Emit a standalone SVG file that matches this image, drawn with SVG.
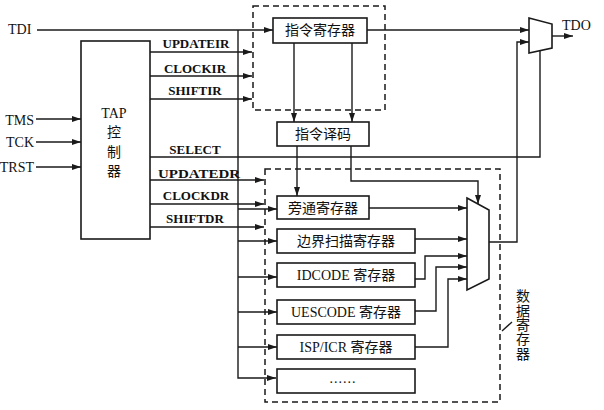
<svg xmlns="http://www.w3.org/2000/svg" width="604" height="410" viewBox="0 0 604 410">
<style>
.ln{fill:none;stroke:#1a1a1a;stroke-width:1.4}
.bx{fill:#fff;stroke:#1a1a1a;stroke-width:1.6}
.dash{fill:none;stroke:#1a1a1a;stroke-width:1.5;stroke-dasharray:6,4}
.pin{font-family:"Liberation Serif","Noto Sans CJK SC",serif;font-size:14px;fill:#111}
.sig{font-family:"Liberation Serif",serif;font-size:13px;font-weight:bold;fill:#111;text-anchor:middle}
.cn{font-family:"Liberation Serif","Noto Sans CJK SC",serif;font-size:14px;fill:#111;text-anchor:middle}
</style>
<defs>
<marker id="ar" markerUnits="userSpaceOnUse" markerWidth="9" markerHeight="6" refX="9" refY="3" orient="auto">
<path d="M0,0 L9,3 L0,6 z" fill="#1a1a1a"/>
</marker>
</defs>

<g id="ir-group">
<rect class="dash" x="253" y="6" width="132" height="104"/>
</g>
<g id="dr-group">
<rect class="dash" x="265" y="169" width="235" height="233"/>
<text class="cn" font-size="13" x="523"><tspan x="523" y="301">数</tspan><tspan x="523" y="316">据</tspan><tspan x="523" y="330">寄</tspan><tspan x="523" y="344">存</tspan><tspan x="523" y="359">器</tspan></text>
<line class="ln" x1="502" y1="331" x2="512" y2="322"/>
</g>

<g id="connectors">
<line class="ln" x1="37" y1="30" x2="273" y2="30" marker-end="url(#ar)"/>
<line class="ln" x1="36" y1="119" x2="81" y2="119" marker-end="url(#ar)"/>
<line class="ln" x1="36" y1="142" x2="81" y2="142" marker-end="url(#ar)"/>
<line class="ln" x1="36" y1="167" x2="81" y2="167" marker-end="url(#ar)"/>
<polyline class="ln" points="238,30 238,378 276,378" marker-end="url(#ar)"/>
<line class="ln" x1="238" y1="209" x2="277" y2="209" marker-end="url(#ar)"/>
<line class="ln" x1="238" y1="241" x2="277" y2="241" marker-end="url(#ar)"/>
<line class="ln" x1="238" y1="277" x2="277" y2="277" marker-end="url(#ar)"/>
<line class="ln" x1="238" y1="312" x2="277" y2="312" marker-end="url(#ar)"/>
<line class="ln" x1="238" y1="347" x2="277" y2="347" marker-end="url(#ar)"/>
<line class="ln" x1="150" y1="52" x2="252" y2="52" marker-end="url(#ar)"/>
<line class="ln" x1="150" y1="76" x2="252" y2="76" marker-end="url(#ar)"/>
<line class="ln" x1="150" y1="99" x2="252" y2="99" marker-end="url(#ar)"/>
<line class="ln" x1="150" y1="180" x2="264" y2="180" marker-end="url(#ar)"/>
<line class="ln" x1="150" y1="204" x2="264" y2="204" marker-end="url(#ar)"/>
<line class="ln" x1="150" y1="227" x2="264" y2="227" marker-end="url(#ar)"/>
<polyline class="ln" points="150,157 540,157 540,51"/>
<line class="ln" x1="294" y1="43" x2="294" y2="122" marker-end="url(#ar)"/>
<line class="ln" x1="352" y1="43" x2="352" y2="122" marker-end="url(#ar)"/>
<line class="ln" x1="297" y1="146" x2="297" y2="196" marker-end="url(#ar)"/>
<polyline class="ln" points="351,146 351,181 478,181 478,204" marker-end="url(#ar)"/>
<line class="ln" x1="367" y1="30" x2="529" y2="30" marker-end="url(#ar)"/>
<line class="ln" x1="369" y1="208" x2="467" y2="208" marker-end="url(#ar)"/>
<line class="ln" x1="415" y1="239" x2="467" y2="239" marker-end="url(#ar)"/>
<polyline class="ln" points="415,279 425,279 425,256 467,256" marker-end="url(#ar)"/>
<polyline class="ln" points="415,311 436,311 436,267 467,267" marker-end="url(#ar)"/>
<polyline class="ln" points="415,347 448,347 448,279 467,279" marker-end="url(#ar)"/>
<polyline class="ln" points="489,242 517,242 517,42 529,42" marker-end="url(#ar)"/>
<line class="ln" x1="552" y1="36" x2="573" y2="36" marker-end="url(#ar)"/>
</g>

<g id="labels">
<text class="pin" x="8" y="34">TDI</text>
<text class="pin" x="34" y="125" text-anchor="end">TMS</text>
<text class="pin" x="34" y="147" text-anchor="end">TCK</text>
<text class="pin" x="34" y="172" text-anchor="end">TRST</text>
<text class="pin" x="562" y="30">TDO</text>
<text class="sig" x="196" y="48">UPDATEIR</text>
<text class="sig" x="195" y="73">CLOCKIR</text>
<text class="sig" x="195" y="95">SHIFTIR</text>
<text class="sig" x="195" y="154">SELECT</text>
<text class="sig" x="199" y="178" textLength="82" lengthAdjust="spacingAndGlyphs">UPDATEDR</text>
<text class="sig" x="196" y="200">CLOCKDR</text>
<text class="sig" x="195" y="223">SHIFTDR</text>
</g>

<g id="tap">
<rect class="bx" x="81" y="41" width="69" height="198"/>
<text class="cn" x="114" y="118">TAP</text>
<text class="cn" x="114" y="137">控</text>
<text class="cn" x="114" y="157">制</text>
<text class="cn" x="114" y="176">器</text>
</g>

<g id="ir">
<rect class="bx" x="273" y="18" width="94" height="25"/>
<text class="cn" x="320" y="35">指令寄存器</text>
</g>

<g id="decode">
<rect class="bx" x="277" y="122" width="92" height="24"/>
<text class="cn" x="323" y="139">指令译码</text>
</g>

<g id="bypass">
<rect class="bx" x="277" y="196" width="92" height="23"/>
<text class="cn" x="323" y="213">旁通寄存器</text>
</g>

<g id="bsr">
<rect class="bx" x="277" y="229" width="138" height="24"/>
<text class="cn" x="346" y="246">边界扫描寄存器</text>
</g>

<g id="idcode">
<rect class="bx" x="277" y="263" width="138" height="24"/>
<text class="cn" x="346" y="280">IDCODE 寄存器</text>
</g>

<g id="uescode">
<rect class="bx" x="277" y="300" width="138" height="24"/>
<text class="cn" x="346" y="317">UESCODE 寄存器</text>
</g>

<g id="ispicr">
<rect class="bx" x="277" y="335" width="138" height="24"/>
<text class="cn" x="346" y="352">ISP/ICR 寄存器</text>
</g>

<g id="more">
<rect class="bx" x="277" y="369" width="138" height="24"/>
<text class="cn" x="343" y="383" letter-spacing="1">......</text>
</g>

<g id="dr-mux">
<polygon class="bx" points="467,198 489,210 489,279 467,290"/>
</g>

<g id="tdo-mux">
<polygon class="bx" points="529,18 552,24 552,48 529,53"/>
</g>
</svg>
